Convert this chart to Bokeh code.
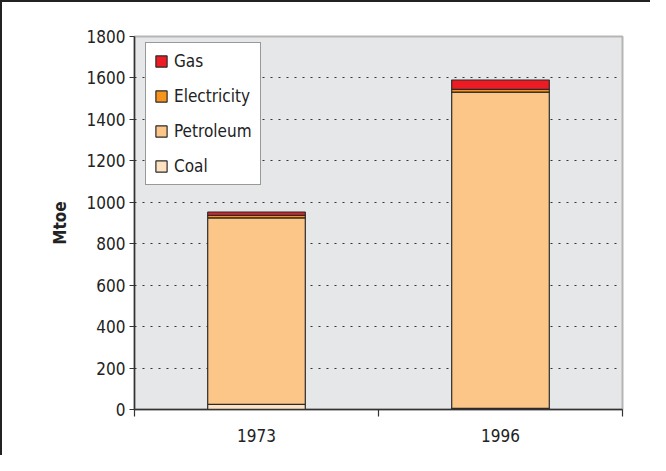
from bokeh.plotting import figure
from bokeh.models import (ColumnDataSource, Legend, LegendItem, FixedTicker,
                          Range1d)
from bokeh.embed import file_html
from bokeh.resources import INLINE

# ---- data ----
years = ["1973", "1996"]
coal = [25, 5]
petroleum = [900, 1527]
electricity = [12, 13]
gas = [15, 45]
series = ["Coal", "Petroleum", "Electricity", "Gas"]
colors = ["#FDE2C2", "#FDC689", "#F7941D", "#ED1C24"]
y_ticks = [0, 200, 400, 600, 800, 1000, 1200, 1400, 1600, 1800]

FONT = "DejaVu Sans Condensed"

x_pos = [i + 0.5 for i in range(len(years))]
src = ColumnDataSource(dict(x=x_pos, Coal=coal, Petroleum=petroleum,
                            Electricity=electricity, Gas=gas))

p = figure(width=650, height=455, output_backend="svg", toolbar_location=None,
           x_range=Range1d(0, len(years)), y_range=Range1d(0, 1800),
           min_border_left=132, min_border_top=34, min_border_right=30,
           min_border_bottom=48)
p.styles = {"border-top": "2px solid #222", "border-left": "2px solid #222"}
p.background_fill_color = "#E6E7E8"
p.border_fill_color = "white"
p.outline_line_color = "#B5B5B5"
p.outline_line_width = 2

renderers = p.vbar_stack(series, x="x", width=0.4, source=src, color=colors,
                         line_color="#2a2a2a", line_width=1.2)

# grid
p.xgrid.visible = False
p.ygrid.ticker = FixedTicker(ticks=y_ticks)
p.ygrid.grid_line_color = "#333333"
p.ygrid.grid_line_dash = "2 6"
p.ygrid.grid_line_width = 1
p.ygrid.level = "underlay"

# y axis
p.yaxis.ticker = FixedTicker(ticks=y_ticks)
p.yaxis.axis_label = "Mtoe"
p.yaxis.axis_label_text_font = FONT
p.yaxis.axis_label_text_font_style = "bold"
p.yaxis.axis_label_text_font_size = "17px"
p.yaxis.axis_label_text_color = "#222222"
p.yaxis.axis_label_standoff = 14
p.yaxis.major_label_text_font = FONT
p.yaxis.major_label_text_font_size = "17px"
p.yaxis.major_label_text_color = "#222222"
p.yaxis.major_tick_out = 5
p.yaxis.major_tick_in = 0
p.yaxis.minor_tick_line_color = None
p.yaxis.axis_line_color = "#333333"
p.yaxis.axis_line_width = 1.5
p.yaxis.major_tick_line_color = "#333333"
p.yaxis.major_tick_line_width = 1.2
p.yaxis.major_label_standoff = 4

# x axis: labels at centres, ticks at category boundaries
p.xaxis.ticker = FixedTicker(ticks=x_pos, minor_ticks=list(range(len(years) + 1)))
p.xaxis.major_label_overrides = {x: y for x, y in zip(x_pos, years)}
p.xaxis.major_tick_line_color = None
p.xaxis.minor_tick_in = 0
p.xaxis.minor_tick_out = 7
p.xaxis.minor_tick_line_color = "#333333"
p.xaxis.minor_tick_line_width = 1.2
p.xaxis.axis_line_color = "#333333"
p.xaxis.axis_line_width = 1.5
p.xaxis.major_label_text_font = FONT
p.xaxis.major_label_text_font_size = "17px"
p.xaxis.major_label_text_color = "#222222"
p.xaxis.major_label_standoff = 12

# legend (Gas on top)
items = [LegendItem(label=s, renderers=[r]) for s, r in zip(series, renderers)][::-1]
legend = Legend(items=items, location=(11, 224))
legend.label_text_font = FONT
legend.label_text_font_size = "17px"
legend.label_text_color = "#222222"
legend.glyph_height = 14
legend.glyph_width = 14
legend.label_height = 18
legend.spacing = 15
legend.padding = 8
legend.label_standoff = 6
legend.border_line_color = "#333333"
legend.border_line_width = 1.5
legend.background_fill_color = "white"
legend.background_fill_alpha = 1
p.add_layout(legend)

open("out.html", "w").write(file_html(p, INLINE))
